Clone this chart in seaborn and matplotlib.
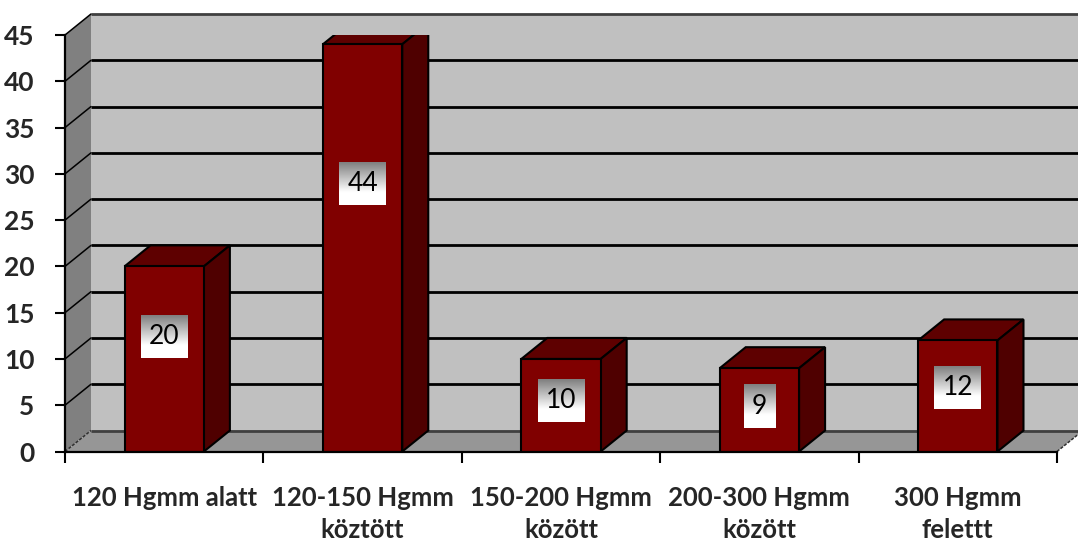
import numpy as np
import pandas as pd
import matplotlib
matplotlib.use("Agg")
import matplotlib.pyplot as plt
from matplotlib.patches import Polygon
import seaborn as sns

categories = ["120 Hgmm alatt", "120-150 Hgmm\nköztött", "150-200 Hgmm\nközött",
              "200-300 Hgmm\nközött", "300 Hgmm\nfelettt"]
values = [20, 44, 10, 9, 12]
yticks = [0, 5, 10, 15, 20, 25, 30, 35, 40, 45]

sns.set_theme(style="white")
plt.rcParams["font.family"] = ["Lato", "DejaVu Sans"]

W, H = 1078, 543
fig = plt.figure(figsize=(W / 100, H / 100), dpi=100)
L, R, B, T = 65, 1057, 451.5, 35
ax = fig.add_axes([L / W, (H - B) / H, (R - L) / W, (B - T) / H])

df = pd.DataFrame({"cat": categories, "val": values})
sns.barplot(data=df, x="cat", y="val", width=0.4, color="#800000", saturation=1,
            edgecolor="black", linewidth=1.5, ax=ax, zorder=5)

ax.set_xlim(-0.5, 4.5)
ax.set_ylim(0, 45)
DX = 26 / ((R - L) / 5)
DY = 21 / ((B - T) / 45)

# walls
x0, x1 = -0.5, 4.5
back = Polygon([(x0 + DX, DY), (x1 + DX + 0.2, DY), (x1 + DX + 0.2, 45 + DY), (x0 + DX, 45 + DY)],
               closed=True, facecolor="#c0c0c0", edgecolor="none", zorder=0, clip_on=False)
side = Polygon([(x0, 0), (x0 + DX, DY), (x0 + DX, 45 + DY), (x0, 45)],
               closed=True, facecolor="#808080", edgecolor="none", zorder=0.5, clip_on=False)
floor = Polygon([(x0, 0), (x1, 0), (x1 + DX, DY), (x0 + DX, DY)],
                closed=True, facecolor="#969696", edgecolor="none", zorder=1, clip_on=False)
for p in (back, side, floor):
    ax.add_patch(p)

for yv in yticks:
    c = "black" if 0 < yv < 45 else "#404040"
    ax.plot([x0 + DX, x1 + DX + 0.2], [yv + DY, yv + DY], color=c, lw=2, zorder=1.5,
            clip_on=False, solid_capstyle="butt")
    ax.plot([x0, x0 + DX], [yv, yv + DY], color="black" if yv > 0 else "#303030",
            lw=1.1, zorder=1.6, clip_on=False, ls="-" if yv > 0 else (0, (2, 1)))
ax.plot([x1, x1 + DX], [0, DY], color="#303030", lw=1.1, zorder=1.6, clip_on=False,
        ls=(0, (2, 1)))

# 3D bar faces
for p in ax.patches[:]:
    if not hasattr(p, "get_x"):
        continue
    bx, bw, bh = p.get_x(), p.get_width(), p.get_height()
    if bh <= 0 or bw > 1 or bw == 0:
        continue
    top = Polygon([(bx, bh), (bx + bw, bh), (bx + bw + DX, bh + DY), (bx + DX, bh + DY)],
                  closed=True, facecolor="#5e0000", edgecolor="black", lw=1.5, zorder=4)
    sidef = Polygon([(bx + bw, 0), (bx + bw + DX, DY), (bx + bw + DX, bh + DY), (bx + bw, bh)],
                    closed=True, facecolor="#4f0000", edgecolor="black", lw=1.5, zorder=4)
    ax.add_patch(top)
    ax.add_patch(sidef)

# axes styling
for s in ("top", "right"):
    ax.spines[s].set_visible(False)
for s in ("left", "bottom"):
    ax.spines[s].set_color("black")
    ax.spines[s].set_linewidth(1.6)
    ax.spines[s].set_zorder(6)
ax.set_yticks(yticks)
ax.set_yticklabels([str(v) for v in yticks], fontsize=19, fontweight="bold")
ax.tick_params(axis="y", direction="out", length=7, width=1.5, color="black", pad=15, left=True)
ax.set_xticks(range(len(categories)))
ax.set_xticklabels(categories, fontsize=18.5, fontweight="bold", linespacing=1.4)
ax.set_xticks([i - 0.5 for i in range(len(categories) + 1)], minor=True)
ax.tick_params(axis="x", which="major", length=0, pad=25)
ax.tick_params(axis="x", which="minor", direction="out", length=8, width=1.5, color="black",
               bottom=True)
ax.set_xlabel("")
ax.set_ylabel("")
ax.grid(False)

# data labels with gradient boxes
texts = []
for i, v in enumerate(values):
    t = ax.text(i, 0.69 * v - 1.4, str(v), ha="center", va="center", fontsize=19,
                color="black", zorder=8)
    texts.append(t)
fig.canvas.draw()
rend = fig.canvas.get_renderer()
inv = ax.transData.inverted()
grad_t = np.linspace(0, 1, 64)
g = 0.5 + 0.5 * np.clip(grad_t / 0.7, 0, 1)
img = np.repeat(g[:, None, None], 3, axis=2)
for t in texts:
    bb = t.get_window_extent(rend)
    cx, cy = (bb.x0 + bb.x1) / 2, (bb.y0 + bb.y1) / 2
    hw = bb.width / 2 + 8
    hh = 21.5
    (dx0, dy0) = inv.transform((cx - hw, cy - hh))
    (dx1, dy1) = inv.transform((cx + hw, cy + hh))
    ax.imshow(img, extent=[dx0, dx1, dy0, dy1], aspect="auto", zorder=7, interpolation="bilinear")
ax.set_xlim(-0.5, 4.5)
ax.set_ylim(0, 45)

fig.savefig("out.png", dpi=100)
